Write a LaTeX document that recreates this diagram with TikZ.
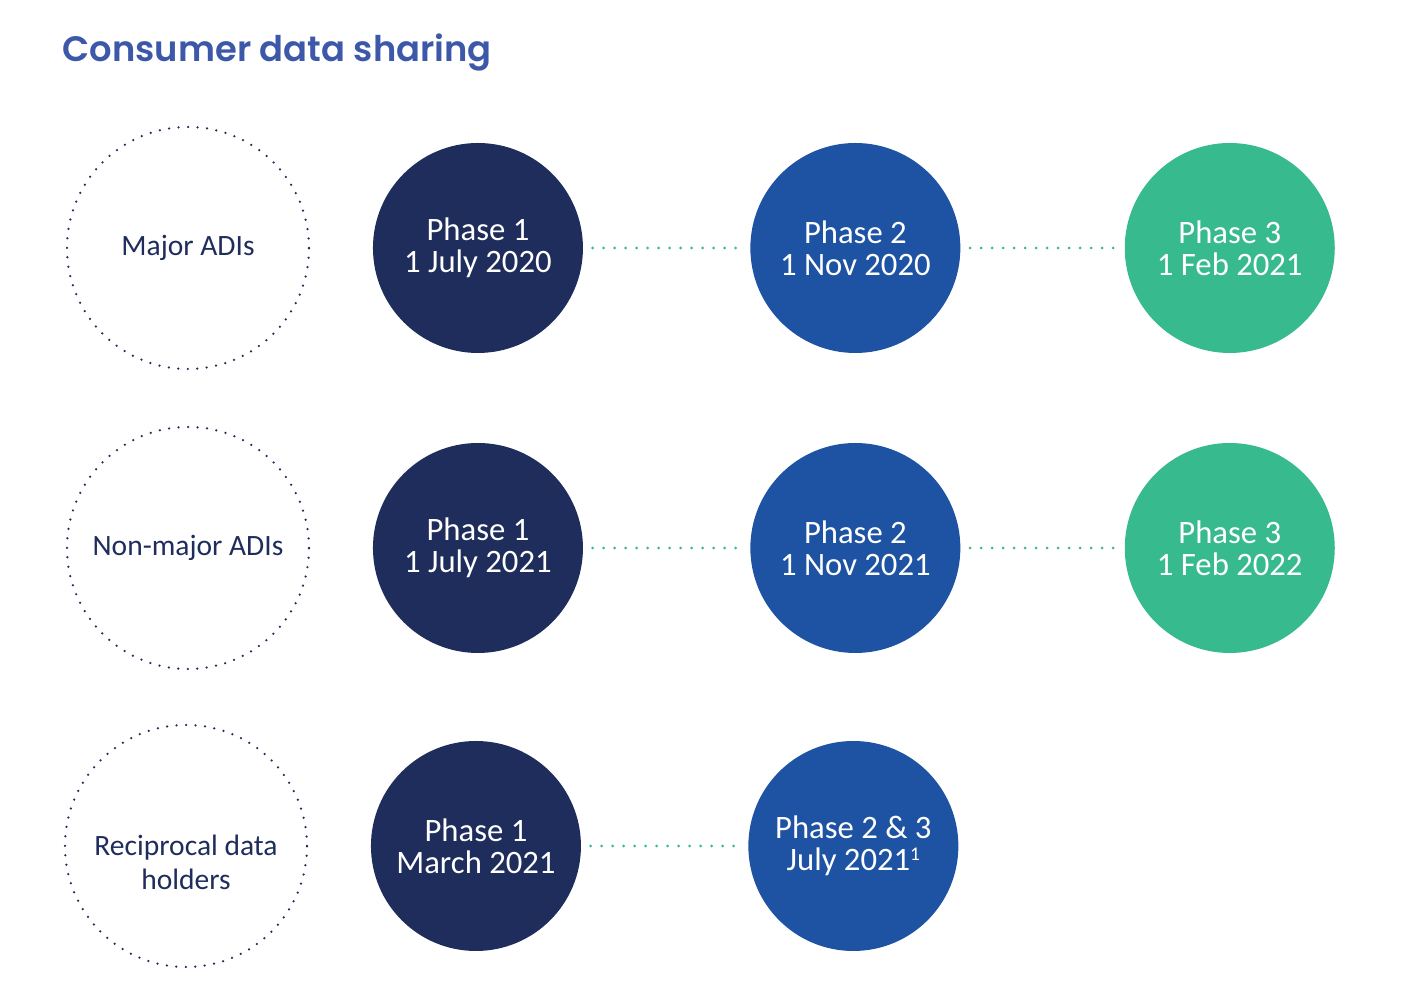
\documentclass[tikz,border=0pt]{standalone}
\usepackage{fontspec}
\setmainfont{Carlito}
\newfontfamily\titlefont{Poppins SemiBold}
\usetikzlibrary{positioning}

\definecolor{navy}{HTML}{1F2D5C}
\definecolor{midblue}{HTML}{1E52A3}
\definecolor{mint}{HTML}{38BA8F}
\definecolor{titleblue}{HTML}{3D58A8}

\begin{document}
\begin{tikzpicture}[
    every node/.style={align=center},
    link/.style={mint, line width=0.03cm, line cap=round,
        dash pattern=on 0pt off 0.11cm, shorten <=0.09cm, shorten >=0.04cm},
]

% --- Style definitions ---
\tikzset{
    group/.style = {circle, draw=navy, line width=0.025cm, line cap=round,
        dash pattern=on 0pt off 0.095cm, minimum size=2.42cm, inner sep=0pt,
        text=navy, font=\fontsize{8.4}{9.7}\selectfont},
    phase/.style = {circle, minimum size=2.1cm, inner sep=0pt, text=white,
        font=\fontsize{9.3}{9.2}\selectfont},
    early/.style = {phase, fill=navy},
    mid/.style = {phase, fill=midblue},
    late/.style = {phase, fill=mint},
}

\useasboundingbox (0,0) rectangle (14.08,-10);

% --- Title ---
\node [anchor=base west, inner sep=0pt, text=titleblue, font=\titlefont\fontsize{10.05}{13}\selectfont]
    (title) at (0.62,-0.62) {Consumer data sharing};

% --- Row labels ---
\node (major) [group] at (1.88,-2.48) {Major ADIs};
\node (nonmajor) [group] at (1.88,-5.48) {Non-major ADIs};
\node (recip) [group] at (1.86,-8.46) {\rule{0pt}{0.53cm}Reciprocal data\\holders};

% --- Major ADIs ---
\node (m1) [early, right=0.62cm of major] {Phase 1\\1 July 2020};
\node (m2) [mid, right=1.66cm of m1] {Phase 2\\1 Nov 2020};
\node (m3) [late, right=1.63cm of m2] {Phase 3\\1 Feb 2021};

% --- Non-major ADIs ---
\node (n1) [early, right=0.62cm of nonmajor] {Phase 1\\1 July 2021};
\node (n2) [mid, right=1.66cm of n1] {Phase 2\\1 Nov 2021};
\node (n3) [late, right=1.63cm of n2] {Phase 3\\1 Feb 2022};

% --- Reciprocal data holders ---
\node (r1) [early, right=0.62cm of recip] {Phase 1\\March 2021};
\node (r2) [mid, right=1.66cm of r1] {Phase 2 \& 3\\July 2021{\fontsize{5.5}{5}\selectfont\raisebox{0.55em}{1}}};

% --- Dotted links ---
\draw [link] (m1) -- (m2);
\draw [link] (m2) -- (m3);
\draw [link] (n1) -- (n2);
\draw [link] (n2) -- (n3);
\draw [link] (r1) -- (r2);

\end{tikzpicture}
\end{document}
